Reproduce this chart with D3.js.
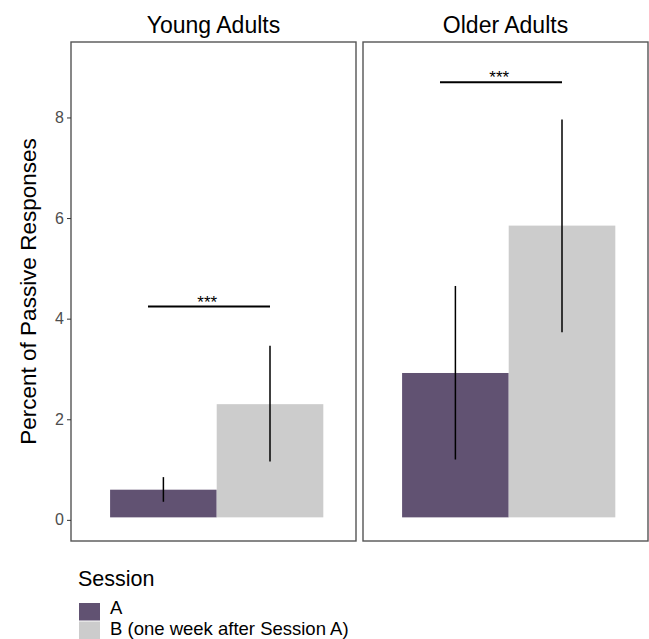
<!DOCTYPE html>
<html><head><meta charset="utf-8">
<script src="https://cdn.jsdelivr.net/npm/d3@7"></script>
<style>body{margin:0;background:#fff;} text{font-family:"Liberation Sans",Arial,Helvetica,sans-serif;}</style>
</head><body>
<svg id="chart" width="649" height="639"></svg>
<script>
// ---- data ----
const panels = ["Young Adults", "Older Adults"];
const sessions = ["A", "B (one week after Session A)"];
const sessionColors = ["#615272", "#cccccc"];
const meansYoung = [0.60, 2.30];
const meansOlder = [2.92, 5.85];
const errLowYoung = [0.36, 1.16];
const errHighYoung = [0.85, 3.46];
const errLowOlder = [1.20, 3.73];
const errHighOlder = [4.65, 7.96];
const barBase = 0.05;
const barPos = [0.775, 1.225];      // dodged x positions (data units)
const barWidth = 0.45;
const sigY = [4.24, 8.70];          // significance bracket heights
const sigX = [0.71, 1.225];
const sigStarX = 0.96;
const sigLabel = "***";
const yTicks = [0, 2, 4, 6, 8];

const means = [meansYoung, meansOlder];
const lows = [errLowYoung, errLowOlder];
const highs = [errHighYoung, errHighOlder];

// ---- layout ----
const svg = d3.select("#chart");
const pTop = 42, pBottom = 541;
const panelX = [[71, 356], [363, 648]];
const y = d3.scaleLinear().domain([-0.42, 9.5]).range([pBottom, pTop]);

panels.forEach((name, pi) => {
  const [x0, x1] = panelX[pi];
  const x = d3.scaleLinear().domain([0.385, 1.588]).range([x0, x1]);
  const g = svg.append("g");

  // bars
  g.selectAll("rect.bar").data(sessions).enter().append("rect")
    .attr("class", "bar")
    .attr("x", (d, i) => x(barPos[i] - barWidth / 2))
    .attr("width", (d, i) => x(barPos[i] + barWidth / 2) - x(barPos[i] - barWidth / 2))
    .attr("y", (d, i) => y(means[pi][i]))
    .attr("height", (d, i) => y(barBase) - y(means[pi][i]))
    .attr("fill", (d, i) => sessionColors[i]);

  // error bars
  g.selectAll("line.err").data(sessions).enter().append("line")
    .attr("class", "err")
    .attr("x1", (d, i) => x(barPos[i])).attr("x2", (d, i) => x(barPos[i]))
    .attr("y1", (d, i) => y(lows[pi][i])).attr("y2", (d, i) => y(highs[pi][i]))
    .attr("stroke", "#000").attr("stroke-width", 1.5);

  // significance
  g.append("line")
    .attr("x1", x(sigX[0])).attr("x2", x(sigX[1]))
    .attr("y1", y(sigY[pi])).attr("y2", y(sigY[pi]))
    .attr("stroke", "#000").attr("stroke-width", 2);
  g.append("text")
    .attr("x", x(sigStarX)).attr("y", y(sigY[pi]) + 1)
    .attr("text-anchor", "middle").attr("font-size", 17).attr("fill", "#000")
    .text(sigLabel);

  // panel border
  g.append("rect")
    .attr("x", x0).attr("y", pTop).attr("width", x1 - x0).attr("height", pBottom - pTop)
    .attr("fill", "none").attr("stroke", "#555").attr("stroke-width", 1.4);

  // strip title
  svg.append("text")
    .attr("x", (x0 + x1) / 2).attr("y", 33)
    .attr("text-anchor", "middle").attr("font-size", 23).attr("fill", "#000")
    .text(name);
});

// y axis
const yAxis = d3.axisLeft(y).tickValues(yTicks).tickSize(4).tickPadding(3).tickFormat(d3.format("d"));
const ax = svg.append("g").attr("transform", `translate(${panelX[0][0]},0)`).call(yAxis);
ax.select(".domain").remove();
ax.selectAll(".tick line").attr("stroke", "#333").attr("stroke-width", 1);
ax.selectAll(".tick text").attr("font-size", 16).attr("fill", "#4d4d4d")
  .attr("font-family", "Liberation Sans, Arial, sans-serif");

svg.append("text")
  .attr("transform", `translate(36,${(pTop + pBottom) / 2}) rotate(-90)`)
  .attr("text-anchor", "middle").attr("font-size", 22.5).attr("fill", "#000")
  .text("Percent of Passive Responses");

// legend
const lg = svg.append("g");
lg.append("text").attr("x", 78).attr("y", 586).attr("font-size", 21.5).attr("fill", "#000").text("Session");
sessions.forEach((s, i) => {
  lg.append("rect").attr("x", 79).attr("y", 603 + i * 18.5).attr("width", 21).attr("height", 17.5)
    .attr("fill", sessionColors[i]);
  lg.append("text").attr("x", 110).attr("y", 613.8 + i * 20.7).attr("font-size", 18.5).attr("fill", "#000").text(s);
});
</script>
</body></html>
